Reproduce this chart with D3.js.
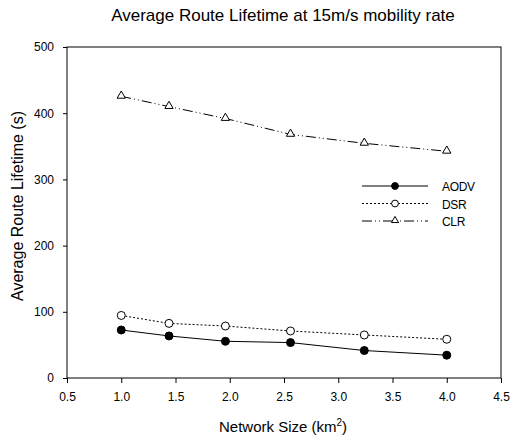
<!DOCTYPE html>
<html>
<head>
<meta charset="utf-8">
<script src="https://cdn.jsdelivr.net/npm/d3@7"></script>
<style>
  body { margin: 0; background: #fff; }
  text { font-family: "Liberation Sans", Arial, sans-serif; fill: #000; }
  .tick text { font-size: 12px; }
</style>
</head>
<body>
<div id="chart"></div>
<script>
// network sizes (km^2) and average route lifetimes (s)
var sizes = [1.0, 1.44, 1.96, 2.56, 3.24, 4.0];
var aodv  = [72.5, 63.5, 55.5, 53.5, 41.5, 34.5];
var dsr   = [94.5, 82.5, 78.5, 71, 65, 58.5];
var clr   = [425.5, 410, 392, 368, 354.5, 342.5];
var xTicks = [0.5, 1.0, 1.5, 2.0, 2.5, 3.0, 3.5, 4.0, 4.5];
var yTicks = [0, 100, 200, 300, 400, 500];

var width = 514, height = 439;
var margin = {left: 67, right: 13, top: 47, bottom: 61};

var svg = d3.select("#chart").append("svg")
    .attr("width", width)
    .attr("height", height);

var x = d3.scaleLinear().domain([0.5, 4.5]).range([margin.left, width - margin.right]);
var y = d3.scaleLinear().domain([0, 500]).range([height - margin.bottom, margin.top]);

// frame
svg.append("rect")
    .attr("x", x(0.5))
    .attr("y", y(500))
    .attr("width", x(4.5) - x(0.5))
    .attr("height", y(0) - y(500))
    .attr("fill", "none")
    .attr("stroke", "#000")
    .attr("stroke-width", 1);

// axes
svg.append("g")
    .attr("transform", "translate(0," + y(0) + ")")
    .call(d3.axisBottom(x).tickValues(xTicks).tickFormat(d3.format(".1f")).tickSize(5).tickPadding(9))
    .call(function(g) { g.select(".domain").remove(); });

svg.append("g")
    .attr("transform", "translate(" + x(0.5) + ",0)")
    .call(d3.axisLeft(y).tickValues(yTicks).tickSize(4).tickPadding(9))
    .call(function(g) { g.select(".domain").remove(); });

// title + labels
svg.append("text")
    .attr("x", 283).attr("y", 21)
    .attr("text-anchor", "middle")
    .style("font-size", "17px")
    .text("Average Route Lifetime at 15m/s mobility rate");

var xl = svg.append("text")
    .attr("x", 283).attr("y", 432)
    .attr("text-anchor", "middle")
    .style("font-size", "15px");
xl.append("tspan").text("Network Size (km");
xl.append("tspan").attr("dy", -6).style("font-size", "10px").text("2");
xl.append("tspan").attr("dy", 6).text(")");

svg.append("text")
    .attr("transform", "translate(23,206) rotate(-90)")
    .attr("text-anchor", "middle")
    .style("font-size", "16px")
    .text("Average Route Lifetime (s)");

var series = [
    {name: "AODV", values: aodv, dash: null, marker: "circle", fill: "#000"},
    {name: "DSR",  values: dsr,  dash: "2,2", marker: "circle", fill: "#fff"},
    {name: "CLR",  values: clr,  dash: "10,3,1,3,1,3", marker: "triangle", fill: "#fff"}
];

var line = d3.line()
    .x(function(d) { return x(d[0]); })
    .y(function(d) { return y(d[1]); });

function drawMarker(g, s, cx, cy, k) {
    if (s.marker == "circle") {
        g.append("circle")
            .attr("cx", cx).attr("cy", cy).attr("r", 4 * k)
            .attr("fill", s.fill).attr("stroke", "#000").attr("stroke-width", 1);
    } else {
        g.append("path")
            .attr("d", d3.symbol().type(d3.symbolTriangle).size(30 * k * k)())
            .attr("transform", "translate(" + cx + "," + (cy - 0.5) + ")")
            .attr("fill", s.fill).attr("stroke", "#000").attr("stroke-width", 1);
    }
}

series.forEach(function(s) {
    var pts = sizes.map(function(v, i) { return [v, s.values[i]]; });
    var g = svg.append("g");
    g.append("path")
        .attr("d", line(pts))
        .attr("fill", "none")
        .attr("stroke", "#000")
        .attr("stroke-width", 1)
        .attr("stroke-dasharray", s.dash);
    pts.forEach(function(p) { drawMarker(g, s, x(p[0]), y(p[1]), 1); });
});

// legend
var legend = svg.append("g");
series.forEach(function(s, i) {
    var ly = 186 + i * 17.5;
    legend.append("line")
        .attr("x1", 362).attr("x2", 428)
        .attr("y1", ly).attr("y2", ly)
        .attr("stroke", "#000")
        .attr("stroke-dasharray", s.dash);
    drawMarker(legend, s, 395, ly, 0.85);
    legend.append("text")
        .attr("x", 442).attr("y", ly + 5)
        .style("font-size", "12px")
        .style("letter-spacing", "-0.3px")
        .text(s.name);
});
</script>
</body>
</html>
